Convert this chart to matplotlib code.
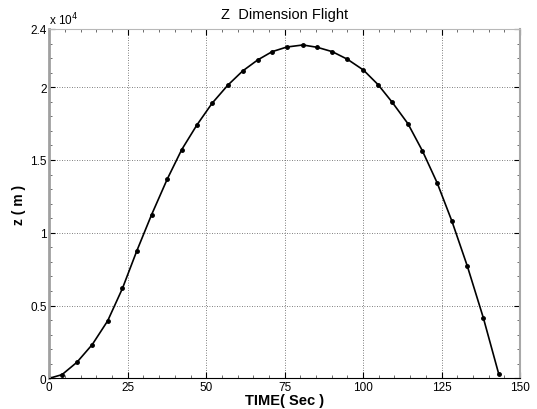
import matplotlib.pyplot as plt
from matplotlib.ticker import MultipleLocator

plt.rcParams['font.family'] = ['Liberation Sans', 'DejaVu Sans']

# time (s) and altitude (m)
t = [0, 4.05, 8.8, 13.7, 18.6, 23.3, 27.9, 32.6, 37.6, 42.2, 47.0,
     51.9, 56.9, 61.6, 66.4, 71.0, 75.7, 80.8, 85.4, 90.2, 95.0,
     100.1, 104.8, 109.3, 114.3, 118.9, 123.6, 128.3, 133.2, 138.3, 143.2]
z = [0, 250, 1100, 2320, 3945, 6170, 8760, 11240, 13690, 15710, 17390,
     18900, 20140, 21110, 21870, 22440, 22760, 22900, 22740, 22440, 21920,
     21180, 20170, 18960, 17490, 15630, 13430, 10800, 7720, 4170, 320]

x_ticks = [0, 25, 50, 75, 100, 125, 150]
y_ticks = [0, 5000, 10000, 15000, 20000, 24000]
y_labels = ['0', '0.5', '1', '1.5', '2', '2.4']

fig = plt.figure(figsize=(5.37, 4.10), dpi=100)
ax = fig.add_axes([0.0918, 0.0749, 0.8765, 0.852])

ax.plot(t, z, color='black', lw=1.2, marker='.', ms=5)

ax.set_xlim(0, 150)
ax.set_ylim(0, 24000)
ax.set_xticks(x_ticks)
ax.set_yticks(y_ticks)
ax.set_yticklabels(y_labels)
ax.xaxis.set_minor_locator(MultipleLocator(5))
ax.yaxis.set_minor_locator(MultipleLocator(1000))
ax.tick_params(which='both', direction='in', top=True, right=True,
               labelsize=8.5, pad=2)
ax.tick_params(which='major', length=4, width=0.8)
ax.tick_params(which='minor', length=2.5, width=0.6, color='#555555')

for v in x_ticks[1:-1]:
    ax.axvline(v, color='#555555', lw=0.6, ls=(0, (1, 2)), zorder=0)
for v in y_ticks[1:-1]:
    ax.axhline(v, color='#555555', lw=0.6, ls=(0, (1, 2)), zorder=0)

ax.spines['left'].set_color('#a0a0a0')
ax.spines['left'].set_linewidth(2)
ax.spines['top'].set_color('#b8b8b8')
ax.spines['right'].set_color('#a8a8a8')
ax.spines['right'].set_linewidth(1.5)
ax.spines['bottom'].set_color('black')

ax.text(0.0, 1.005, 'x 10$^{4}$', transform=ax.transAxes,
        ha='left', va='bottom', fontsize=8.5)
ax.set_title('Z  Dimension Flight', fontsize=10.5, pad=8)
ax.set_xlabel('TIME( Sec )', fontsize=10.5, fontweight='bold', labelpad=0)
ax.set_ylabel('z ( m )', fontsize=10, fontweight='bold', labelpad=3)

fig.savefig('out.png', dpi=100)
